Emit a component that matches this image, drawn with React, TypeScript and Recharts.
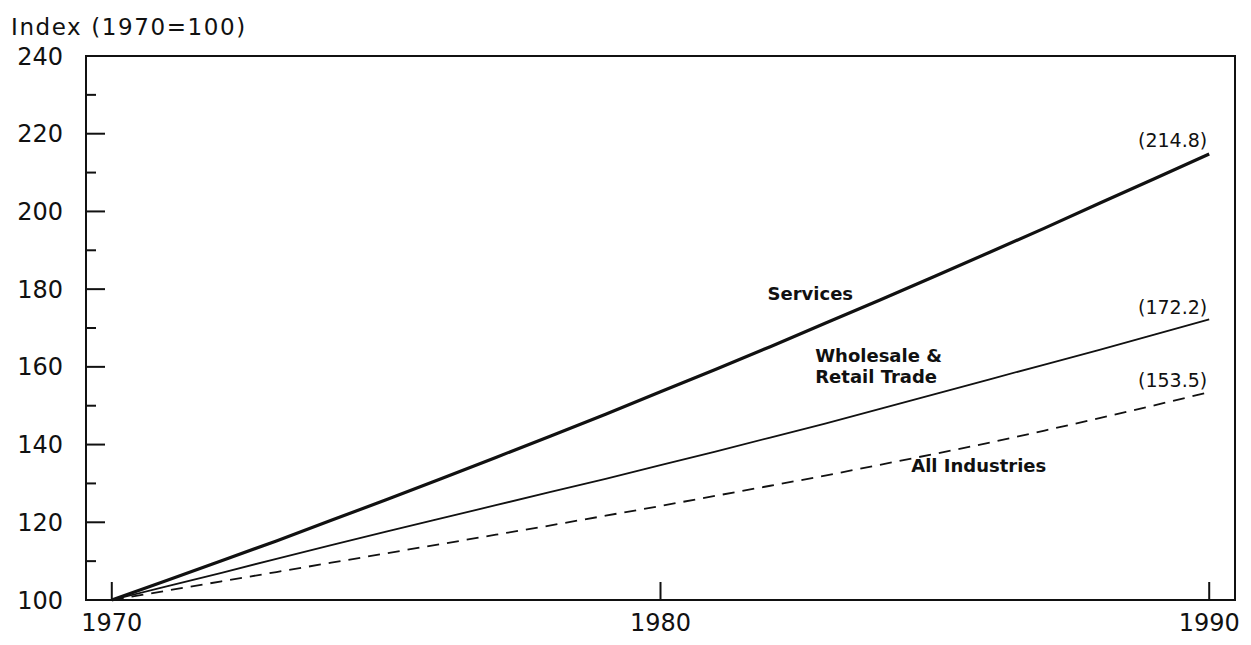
import { LineChart, Line, XAxis, YAxis, ReferenceArea, ReferenceDot } from 'recharts';

const years = [1970, 1971, 1972, 1973, 1974, 1975, 1976, 1977, 1978, 1979, 1980, 1981, 1982, 1983, 1984, 1985, 1986, 1987, 1988, 1989, 1990];
const services = [100, 105, 110.1, 115.2, 120.5, 125.8, 131.2, 136.7, 142.2, 147.8, 153.6, 159.3, 165.2, 171.2, 177.2, 183.3, 189.5, 195.7, 202.1, 208.4, 214.8];
const wholesale = [100, 103.5, 107, 110.6, 114.1, 117.6, 121, 124.4, 127.8, 131.2, 134.7, 138.2, 141.8, 145.4, 149.2, 153, 156.8, 160.6, 164.4, 168.3, 172.2];
const allIndustries = [100, 102.4, 104.8, 107.2, 109.6, 112, 114.4, 116.8, 119.2, 121.7, 124.2, 126.8, 129.4, 132, 134.8, 137.6, 140.5, 143.6, 146.8, 150.1, 153.5];

const xTicks = [1970, 1980, 1990];
const yTicks = [100, 110, 120, 130, 140, 150, 160, 170, 180, 190, 200, 210, 220, 230, 240];
const xDomain = [1969.53, 1990.47];
const yDomain = [100, 240];

const data = years.map((year, i) => ({
  year,
  services: services[i],
  wholesale: wholesale[i],
  all: allIndustries[i],
}));

const FONT = '"DejaVu Sans", sans-serif';

const YTick = ({ x, y, payload }: any) => {
  const major = payload.value % 20 === 0;
  return (
    <g>
      <line x1={x} x2={x + (major ? 19 : 10)} y1={y} y2={y} stroke="#111" strokeWidth={2} />
      {major && (
        <text x={x - 23} y={y} dy="0.36em" textAnchor="end" fontSize={24} fontFamily={FONT} fill="#111">
          {payload.value}
        </text>
      )}
    </g>
  );
};

const XTick = ({ x, y, payload }: any) => (
  <g>
    <line x1={x} x2={x} y1={y} y2={y - 18} stroke="#111" strokeWidth={2} />
    <text x={x} y={y + 22} dy="0.36em" textAnchor="middle" fontSize={24} fontFamily={FONT} fill="#111">
      {payload.value}
    </text>
  </g>
);

// label drawn at a reference point, offset in pixels
const note = (lines: string[], dx: number, dy: number, anchor: string, bold: boolean, size: number) =>
  (props: any) => {
    const vb = props.viewBox || {};
    const cx = vb.x + (vb.width || 0) / 2;
    const cy = vb.y + (vb.height || 0) / 2;
    return (
      <text
        x={cx + dx}
        y={cy + dy}
        textAnchor={anchor}
        fontSize={size}
        fontWeight={bold ? 'bold' : 'normal'}
        fontFamily={FONT}
        fill="#111"
      >
        {lines.map((l, i) => (
          <tspan key={l} x={cx + dx} dy={i === 0 ? '0.36em' : 21}>
            {l}
          </tspan>
        ))}
      </text>
    );
  };

export default function App() {
  return (
    <div style={{ position: 'absolute', left: 0, top: 0, width: 1251, height: 645, background: '#fff' }}>
      <div
        style={{
          position: 'absolute',
          left: 11,
          top: 14,
          fontFamily: FONT,
          fontSize: 23,
          lineHeight: '26px',
          letterSpacing: 1.6,
          color: '#111',
        }}
      >
        Index (1970=100)
      </div>
      <LineChart width={1251} height={645} data={data} margin={{ top: 56, right: 16, bottom: 0, left: 0 }}>
        <XAxis
          dataKey="year"
          type="number"
          domain={xDomain}
          ticks={xTicks}
          allowDataOverflow
          axisLine={false}
          tickLine={false}
          tickSize={0}
          tickMargin={0}
          height={45}
          tick={<XTick />}
        />
        <YAxis
          type="number"
          domain={yDomain}
          ticks={yTicks}
          interval={0}
          axisLine={false}
          tickLine={false}
          tickSize={0}
          tickMargin={0}
          width={86}
          tick={<YTick />}
        />
        <ReferenceArea x1={xDomain[0]} x2={xDomain[1]} y1={yDomain[0]} y2={yDomain[1]} fill="none" stroke="#111" strokeWidth={2} ifOverflow="visible" />
        <Line dataKey="all" type="linear" stroke="#111" strokeWidth={1.8} strokeDasharray="12 8" dot={false} isAnimationActive={false} />
        <Line dataKey="wholesale" type="linear" stroke="#111" strokeWidth={1.8} dot={false} isAnimationActive={false} />
        <Line dataKey="services" type="linear" stroke="#111" strokeWidth={3.2} dot={false} isAnimationActive={false} />
        <ReferenceDot x={1990} y={214.8} r={0} stroke="none" label={{ content: note(['(214.8)'], -2, -14, 'end', false, 19) }} />
        <ReferenceDot x={1990} y={172.2} r={0} stroke="none" label={{ content: note(['(172.2)'], -2, -12, 'end', false, 19) }} />
        <ReferenceDot x={1990} y={153.5} r={0} stroke="none" label={{ content: note(['(153.5)'], -2, -12, 'end', false, 19) }} />
        <ReferenceDot x={1982.73} y={179} r={0} stroke="none" label={{ content: note(['Services'], 0, 0, 'middle', true, 18) }} />
        <ReferenceDot x={1982.82} y={162.8} r={0} stroke="none" label={{ content: note(['Wholesale &', 'Retail Trade'], 0, 0, 'start', true, 18) }} />
        <ReferenceDot x={1984.57} y={134.5} r={0} stroke="none" label={{ content: note(['All Industries'], 0, 0, 'start', true, 18) }} />
      </LineChart>
    </div>
  );
}
